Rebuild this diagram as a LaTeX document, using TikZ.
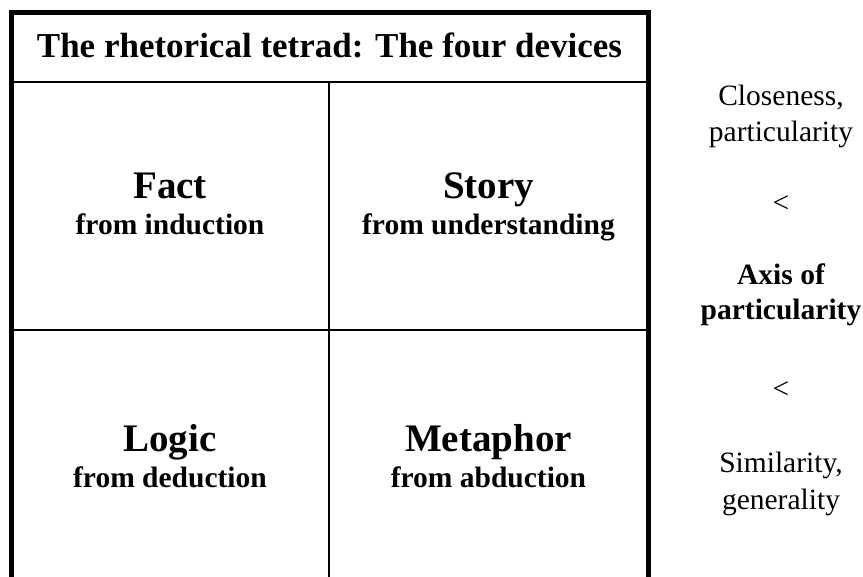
\documentclass[tikz,border=0pt]{standalone}
\usepackage{fontspec}
\setmainfont{Liberation Serif}
\begin{document}
\begin{tikzpicture}[x=1pt,y=-1pt,
  title/.style={font=\fontsize{35}{40}\selectfont\bfseries, anchor=base, inner sep=0pt},
  device/.style={font=\fontsize{39}{44}\selectfont\bfseries, anchor=base, inner sep=0pt},
  source/.style={font=\fontsize{29.5}{34}\selectfont\bfseries, anchor=base, inner sep=0pt},
  axis/.style={font=\fontsize{29.5}{34}\selectfont, anchor=base, inner sep=0pt}]
\useasboundingbox (0,0) rectangle (863,577);
% frame of the table
\coordinate (botleft) at (11,600);
\coordinate (topleft) at (11,12.5);
\coordinate (topright) at (648,12.5);
\coordinate (botright) at (648,600);
\coordinate (headleft) at (11,82);
\coordinate (headright) at (648,82);
\coordinate (midtop) at (329,82);
\coordinate (midbot) at (329,600);
\coordinate (rowleft) at (11,330);
\coordinate (rowright) at (648,330);
\draw [line width=5pt] (botleft) -- (topleft) -- (topright) -- (botright);
\draw [line width=2pt] (headleft) -- (headright);
\draw [line width=2pt] (midtop) -- (midbot);
\draw [line width=2pt] (rowleft) -- (rowright);
% title
\node [title] (tetrad) at (329.5,58) {The rhetorical tetrad: The four devices};
% the four devices
\node [device] (fact) at (170,199) {Fact};
\node [source] (factsrc) at (170,235) {from induction};
\node [device] (story) at (488.5,199) {Story};
\node [source] (storysrc) at (488.5,235) {from understanding};
\node [device] (logic) at (170,452) {Logic};
\node [source] (logicsrc) at (170,488) {from deduction};
\node [device] (metaphor) at (488.5,452) {Metaphor};
\node [source] (metaphorsrc) at (488.5,488) {from abduction};
% axis on the right
\node [axis] (close) at (781,106) {Closeness,};
\node [axis] (closepart) at (781,142) {particularity};
\node [axis] (lessa) at (781,213) {<};
\node [axis, font=\fontsize{29.5}{34}\selectfont\bfseries] (axisof) at (781,285) {Axis of};
\node [axis, font=\fontsize{29.5}{34}\selectfont\bfseries] (axispart) at (781,320) {particularity};
\node [axis] (lessb) at (781,399) {<};
\node [axis] (similar) at (781,473) {Similarity,};
\node [axis] (general) at (781,509) {generality};
\end{tikzpicture}
\end{document}
